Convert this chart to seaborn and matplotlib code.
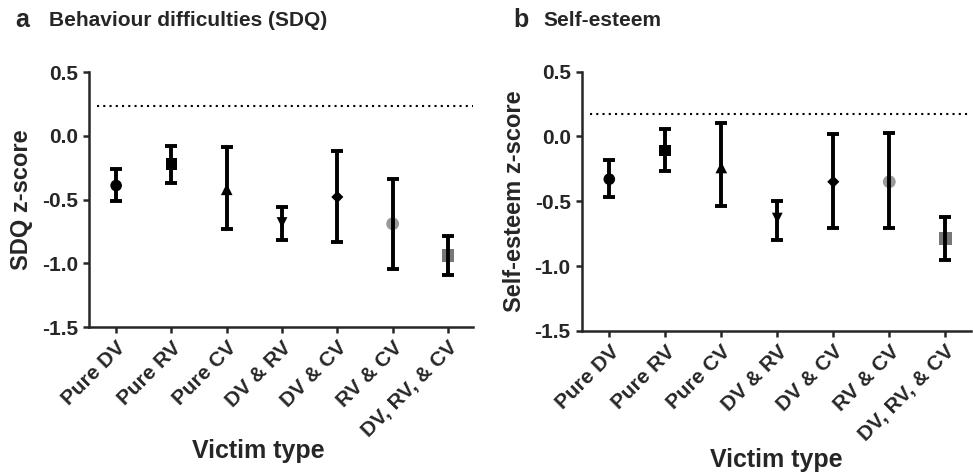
import numpy as np
import pandas as pd
import seaborn as sns
import matplotlib.pyplot as plt
from matplotlib.ticker import FormatStrFormatter

# data
victim_types = ['Pure DV', 'Pure RV', 'Pure CV', 'DV & RV', 'DV & CV', 'RV & CV', 'DV, RV, & CV']

sdq_mean = [-0.39, -0.22, -0.42, -0.68, -0.48, -0.69, -0.94]
sdq_low = [-0.51, -0.37, -0.73, -0.815, -0.83, -1.045, -1.09]
sdq_high = [-0.26, -0.08, -0.09, -0.56, -0.12, -0.34, -0.785]
sdq_ref = 0.23

se_mean = [-0.33, -0.11, -0.24, -0.63, -0.35, -0.35, -0.79]
se_low = [-0.47, -0.27, -0.54, -0.80, -0.71, -0.71, -0.955]
se_high = [-0.185, 0.06, 0.10, -0.50, 0.02, 0.025, -0.62]
se_ref = 0.17

marker_shapes = ['o', 's', '^', 'v', 'D', 'o', 's']
marker_colors = ['black', 'black', 'black', 'black', 'black', '#9a9a9a', '#777777']
marker_sizes = [70, 70, 70, 60, 38, 85, 85]

sns.set_style('ticks')
plt.rcParams['font.family'] = ['Liberation Sans', 'DejaVu Sans']
plt.rcParams['font.weight'] = 'bold'


def draw_panel(ax, means, low, high, ref, ylabel, xlab_y, xlab_x):
    '''draws one panel: markers via seaborn, error bars on top'''
    df = pd.DataFrame({'victim': victim_types, 'mean': means})
    sns.scatterplot(data=df, x='victim', y='mean', hue='victim', style='victim',
                    size='victim',
                    palette=dict(zip(victim_types, marker_colors)),
                    markers=dict(zip(victim_types, marker_shapes)),
                    sizes=dict(zip(victim_types, marker_sizes)),
                    linewidth=0, legend=False, ax=ax, zorder=2)
    pos = np.arange(len(victim_types))
    err = [np.array(means) - np.array(low), np.array(high) - np.array(means)]
    ax.errorbar(pos, means, yerr=err, fmt='none', ecolor='black',
                elinewidth=2.8, capsize=4, capthick=2.8, zorder=3)
    ax.axhline(ref, xmin=0.02, xmax=1, color='black', lw=1.5,
               linestyle=(0, (1, 2)), zorder=1)

    ax.set_ylim(-1.5, 0.5)
    ax.set_yticks([-1.5, -1.0, -0.5, 0.0, 0.5])
    ax.yaxis.set_major_formatter(FormatStrFormatter('%.1f'))
    ax.set_xlim(-0.49, 6.46)
    ax.set_xticks(pos)
    ax.set_xticklabels(victim_types, rotation=45, ha='right',
                       rotation_mode='anchor', fontsize=15, fontweight='bold')
    for t in ax.get_yticklabels():
        t.set_fontsize(15)
        t.set_fontweight('bold')
    ax.tick_params(width=1.8, length=4, direction='out', pad=4)
    for s in ['left', 'bottom']:
        ax.spines[s].set_linewidth(1.8)
    sns.despine(ax=ax)

    ax.set_ylabel(ylabel, fontsize=17, fontweight='bold', labelpad=6)
    ax.set_xlabel('Victim type', fontsize=18, fontweight='bold')
    ax.xaxis.set_label_coords(xlab_x, xlab_y)
    ax.xaxis.label.set_va('top')


fig = plt.figure(figsize=(9.73, 4.74), dpi=100)
ax1 = fig.add_axes([0.0915, 0.310, 0.395, 0.538])
ax2 = fig.add_axes([0.598, 0.302, 0.400, 0.547])

draw_panel(ax1, sdq_mean, sdq_low, sdq_high, sdq_ref, 'SDQ z-score', -0.44, 0.44)
draw_panel(ax2, se_mean, se_low, se_high, se_ref, 'Self-esteem z-score', -0.45, 0.5)

fig.text(0.016, 0.957, 'a', fontsize=18, fontweight='bold', va='center')
fig.text(0.050, 0.957, 'Behaviour difficulties (SDQ)', fontsize=15, fontweight='bold', va='center')
fig.text(0.528, 0.957, 'b', fontsize=18, fontweight='bold', va='center')
fig.text(0.558, 0.957, 'Self-esteem', fontsize=15, fontweight='bold', va='center')

plt.savefig('out.png', dpi=100)
